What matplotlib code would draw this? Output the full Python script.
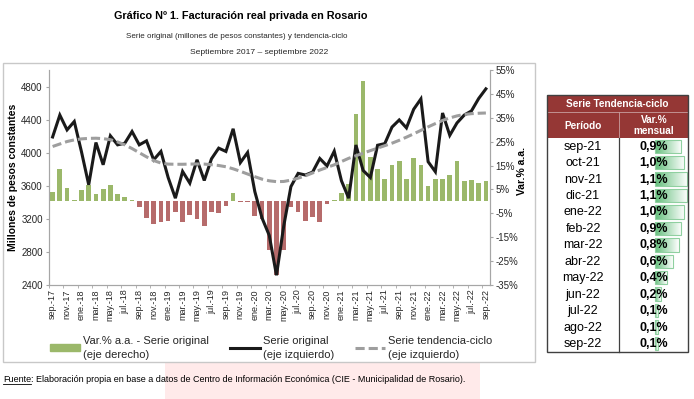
import numpy as np
import matplotlib.pyplot as plt
from matplotlib.patches import Rectangle, Patch
from matplotlib.lines import Line2D
from matplotlib.colors import LinearSegmentedColormap

plt.rcParams['font.family'] = ['Liberation Sans', 'DejaVu Sans']

# -------------------------------------------------------
#                 DATOS (sep-17 a sep-22)
# -------------------------------------------------------

tick_labels = ['sep.-17', 'nov.-17', 'ene.-18', 'mar.-18', 'may.-18', 'jul.-18',
               'sep.-18', 'nov.-18', 'ene.-19', 'mar.-19', 'may.-19', 'jul.-19',
               'sep.-19', 'nov.-19', 'ene.-20', 'mar.-20', 'may.-20', 'jul.-20',
               'sep.-20', 'nov.-20', 'ene.-21', 'mar.-21', 'may.-21', 'jul.-21',
               'sep.-21', 'nov.-21', 'ene.-22', 'mar.-22', 'may.-22', 'jul.-22',
               'sep.-22']

# millones de pesos constantes
serie_original = [4190, 4455, 4276, 4377, 4010, 3612, 4123, 3854, 4204, 4095, 4115, 4256,
                  4095, 4143, 3914, 4015, 3700, 3450, 3773, 3632, 3914, 3664, 3926, 4055,
                  4015, 4289, 3880, 4002, 3530, 3210, 3000, 2518, 3110, 3590, 3750, 3730,
                  3765, 3930, 3840, 4018, 3660, 3450, 4093, 3785, 3700, 4090, 4110, 4310,
                  4396, 4300, 4525, 4650, 3891, 3770, 4480, 4210, 4360, 4455, 4505, 4655,
                  4772]

tendencia_ciclo = [4075, 4105, 4135, 4155, 4167, 4173, 4175, 4170, 4157, 4130, 4095, 4050,
                   4000, 3950, 3905, 3875, 3862, 3860, 3860, 3862, 3864, 3862, 3855, 3845,
                   3830, 3805, 3775, 3742, 3710, 3680, 3660, 3650, 3652, 3668, 3692, 3720,
                   3755, 3790, 3822, 3853, 3893, 3932, 3963, 3994, 4025, 4055, 4085, 4115,
                   4150, 4188, 4228, 4270, 4312, 4352, 4390, 4420, 4445, 4462, 4472, 4477,
                   4480]

# variacion % interanual de la serie original
var_aa = [3.9, 13.6, 5.6, 0.7, 4.6, 6.7, 3.2, 5.3, 6.7, 3.2, 1.8, 0.7,
          -2.4, -7.0, -9.3, -8.6, -8.2, -4.5, -8.6, -5.9, -7.3, -10.5, -4.5, -4.9,
          -2.0, 3.5, -0.4, -0.3, -6.3, -7.5, -20.5, -30.7, -20.5, -2.2, -4.5, -8.2,
          -6.4, -8.5, -1.2, 0.4, 3.6, 7.4, 36.4, 50.3, 18.5, 13.6, 9.5, 15.4,
          16.7, 9.2, 18.1, 15.3, 6.4, 9.2, 9.5, 11.0, 17.1, 8.7, 9.0, 7.7,
          8.5]

# tabla tendencia-ciclo
tabla_periodo = ['sep-21', 'oct-21', 'nov-21', 'dic-21', 'ene-22', 'feb-22', 'mar-22',
                 'abr-22', 'may-22', 'jun-22', 'jul-22', 'ago-22', 'sep-22']
tabla_var = [0.9, 1.0, 1.1, 1.1, 1.0, 0.9, 0.8, 0.6, 0.4, 0.2, 0.1, 0.1, 0.1]

# -------------------------------------------------------

green = '#9BB86A'
red = '#B66B6B'
dark_red = '#953735'
axis_grey = '#a6a6a6'
txt = '#262626'

fig = plt.figure(figsize=(6.94, 3.99), dpi=100)

# capa de fondo en pixeles (marco, titulos, tabla, fuente)
bg = fig.add_axes([0, 0, 1, 1], zorder=0)
bg.set_xlim(0, 694)
bg.set_ylim(399, 0)
bg.axis('off')

bg.add_patch(Rectangle((165, 362), 315, 37, facecolor='#ffeaea', edgecolor='none'))
bg.add_patch(Rectangle((3, 63), 532, 299, fill=False, edgecolor='#c8c8c8', lw=1))

bg.text(241, 16, 'Gráfico Nº 1. Facturación real privada en Rosario',
        ha='center', va='center', fontsize=7.8, fontweight='bold', color='black')
bg.text(237, 37, 'Serie original (millones de pesos constantes) y tendencia-ciclo',
        ha='center', va='center', fontsize=5.8, color=txt)
bg.text(259, 53, 'Septiembre 2017 – septiembre 2022',
        ha='center', va='center', fontsize=6.1, color=txt)

# -------------------------------------------------------
#                      GRAFICO
# -------------------------------------------------------

x = np.arange(len(serie_original))

ax = fig.add_axes([49 / 694, 1 - 285 / 399, 440.5 / 694, 215 / 399], zorder=1)
ax.patch.set_alpha(0)
ax2 = ax.twinx()

bar_colors = [green if v >= 0 else red for v in var_aa]
ax.bar(x, var_aa, width=0.65, color=bar_colors)
ax.set_ylim(-35, 55)
ax.set_yticks(np.arange(-35, 56, 10))
ax.set_yticklabels([f'{t}%' for t in np.arange(-35, 56, 10)])
ax.yaxis.tick_right()
ax.yaxis.set_label_position('right')
ax.set_ylabel('Var.% a.a.', fontsize=7.5, fontweight='bold', color='black')
ax.yaxis.set_label_coords(1.062, 0.53)

ax2.plot(x, serie_original, color='#1a1a1a', lw=2.2, solid_joinstyle='miter')
ax2.plot(x, tendencia_ciclo, color='#9e9e9e', lw=2.2, dashes=(3.0, 1.3))
ax2.set_ylim(2400, 5000)
ax2.set_yticks(np.arange(2400, 4801, 400))
ax2.yaxis.tick_left()
ax2.yaxis.set_label_position('left')
ax2.set_ylabel('Millones de pesos constantes', fontsize=7.5, fontweight='bold',
               color='black', labelpad=2)

ax.set_xlim(-0.5, 60.5)
ax.set_xticks(np.arange(0, 61, 2))
ax.set_xticklabels(tick_labels, rotation=90)
ax.set_xticks(np.arange(-0.5, 61, 2), minor=True)
ax.tick_params(axis='x', which='major', length=0, labelsize=6.5, labelcolor=txt, pad=3)
ax.tick_params(axis='x', which='minor', length=2.5, color=axis_grey)
ax.tick_params(axis='y', length=2.5, color=axis_grey, labelsize=7, labelcolor=txt, pad=2)
ax2.tick_params(axis='y', length=2.5, color=axis_grey, labelsize=7, labelcolor=txt, pad=2)

for a in (ax, ax2):
    a.spines['top'].set_visible(False)
    for s in ('left', 'right', 'bottom'):
        a.spines[s].set_color(axis_grey)
        a.spines[s].set_linewidth(0.8)

handles = [Patch(color=green),
           Line2D([], [], color='#1a1a1a', lw=2.2),
           Line2D([], [], color='#9e9e9e', lw=2.2, dashes=(3.0, 1.3))]
labels = ['Var.% a.a. - Serie original\n(eje derecho)',
          'Serie original\n(eje izquierdo)',
          'Serie tendencia-ciclo\n(eje izquierdo)']
leg = fig.legend(handles, labels, loc='upper left', bbox_to_anchor=(50 / 694, 1 - 336 / 399),
                 ncol=3, frameon=False, fontsize=8, handlelength=2.7, handleheight=0.6,
                 columnspacing=1.9, handletextpad=0.25, labelcolor=txt,
                 borderpad=0, borderaxespad=0)
for t in leg.get_texts():
    t.set_linespacing(1.45)

# -------------------------------------------------------
#                        TABLA
# -------------------------------------------------------

tx0, tx1, tx2 = 546.7, 619.3, 688.3
ty0, ty1, ty2, ty3 = 95, 112, 138, 351.7
row_h = (ty3 - ty2) / len(tabla_periodo)
row_y = ty2 + row_h * (np.arange(len(tabla_periodo)) + 0.5)

bg.add_patch(Rectangle((tx0, ty0), tx2 - tx0, ty2 - ty0, facecolor=dark_red, edgecolor='none'))
bg.plot([tx0, tx2], [ty1, ty1], color='#c9a0a0', lw=0.6)
bg.plot([tx1, tx1], [ty1, ty2], color='#c9a0a0', lw=0.6)
bg.text((tx0 + tx2) / 2, (ty0 + ty1) / 2 + 0.5, 'Serie Tendencia-ciclo', ha='center', va='center',
        fontsize=7.2, fontweight='bold', color='white')
bg.text((tx0 + tx1) / 2, (ty1 + ty2) / 2 + 1, 'Período', ha='center', va='center',
        fontsize=7.2, fontweight='bold', color='white')
bg.text((tx1 + tx2) / 2, (ty1 + ty2) / 2 + 0.5, 'Var.%\nmensual', ha='center', va='center',
        fontsize=7.2, fontweight='bold', color='white', linespacing=1.15)

gcmap = LinearSegmentedColormap.from_list('db', ['#63BE7B', '#ffffff'])
grad = np.linspace(0, 1, 100).reshape(1, -1)
bars = bg.barh(row_y, np.array(tabla_var) * 29.4, left=655, height=row_h - 3,
               facecolor='none', edgecolor='#8fd0a0', lw=0.8, zorder=2)
for b in bars:
    im = bg.imshow(grad, cmap=gcmap, aspect='auto', zorder=1,
                   extent=[b.get_x(), b.get_x() + b.get_width(),
                           b.get_y() + b.get_height(), b.get_y()])
    im.set_clip_path(b)
bg.set_xlim(0, 694)
bg.set_ylim(399, 0)

for yy, p, v in zip(row_y, tabla_periodo, tabla_var):
    bg.text((tx0 + tx1) / 2, yy + 0.5, p, ha='center', va='center', fontsize=9, color='black', zorder=3)
    bg.text((tx1 + tx2) / 2, yy + 0.5, f'{v:.1f}%'.replace('.', ','), ha='center', va='center',
            fontsize=9, fontweight='bold', color='black', zorder=3)

bg.add_patch(Rectangle((tx0, ty0), tx2 - tx0, ty3 - ty0, fill=False, edgecolor='#404040', lw=1, zorder=4))
bg.plot([tx1, tx1], [ty2, ty3], color='#404040', lw=0.9, zorder=4)

# -------------------------------------------------------
#                        FUENTE
# -------------------------------------------------------

f1 = bg.text(3, 379, 'Fuente', ha='left', va='center', fontsize=6.5, color='black')
fig.canvas.draw()
bb = f1.get_window_extent().transformed(bg.transData.inverted())
bg.plot([bb.x0, bb.x1], [383.5, 383.5], color='black', lw=0.6)
bg.text(bb.x1, 379, ': Elaboración propia en base a datos de Centro de Información Económica '
        '(CIE - Municipalidad de Rosario).', ha='left', va='center', fontsize=6.5, color='black')

fig.savefig('out.png', dpi=100)
